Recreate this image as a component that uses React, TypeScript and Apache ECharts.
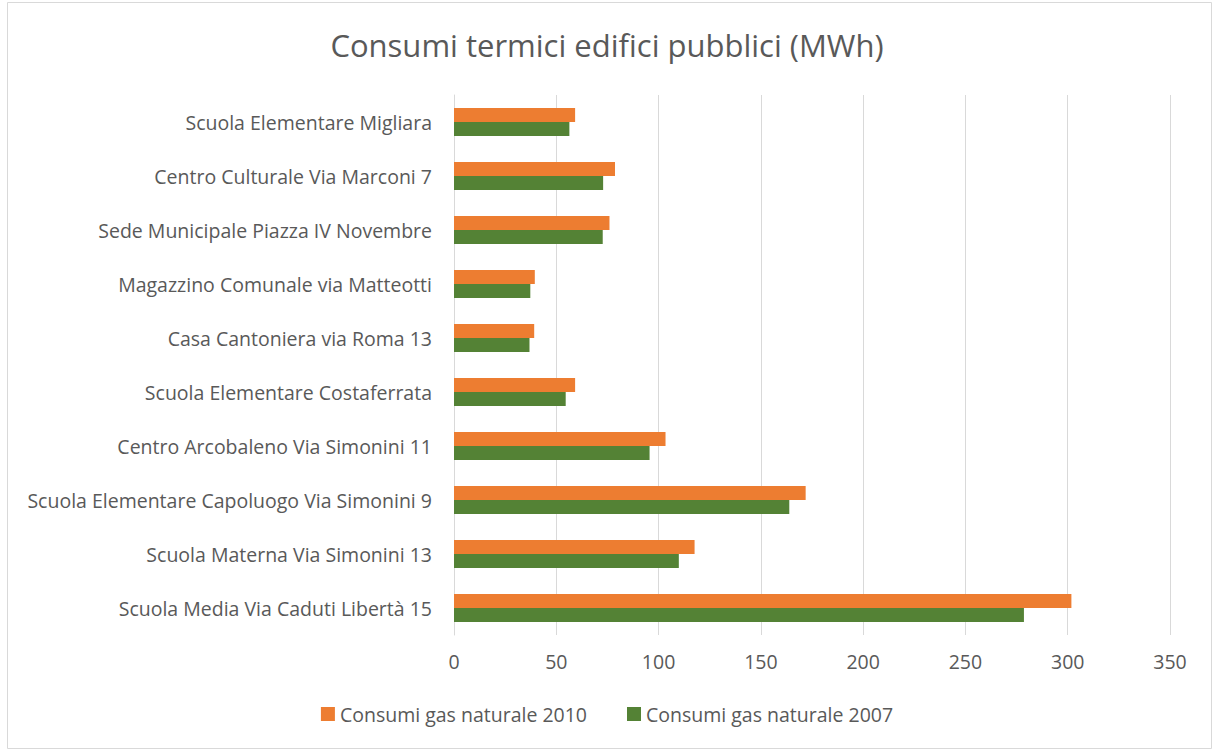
import React, { useEffect, useRef } from "react";
import * as echarts from "echarts";

const categories = [
  "Scuola Media Via Caduti Libertà 15",
  "Scuola Materna Via Simonini 13",
  "Scuola Elementare Capoluogo Via Simonini 9",
  "Centro Arcobaleno Via Simonini 11",
  "Scuola Elementare Costaferrata",
  "Casa Cantoniera via Roma 13",
  "Magazzino Comunale via Matteotti",
  "Sede Municipale Piazza IV Novembre",
  "Centro Culturale Via Marconi 7",
  "Scuola Elementare Migliara",
];
const gas2010 = [301.8, 117.6, 171.9, 103.4, 59.2, 39.2, 39.5, 76.0, 78.7, 59.2];
const gas2007 = [278.6, 109.9, 163.9, 95.6, 54.6, 36.9, 37.3, 72.7, 72.9, 56.4];
const seriesNames = ["Consumi gas naturale 2010", "Consumi gas naturale 2007"];
const title = "Consumi termici edifici pubblici (MWh)";

const FONT = "'Open Sans', sans-serif";
const TXT = "#595959";
const FS = 19.5;

export default function App() {
  const ref = useRef<HTMLDivElement>(null);
  useEffect(() => {
    if (!ref.current) return;
    const chart = echarts.init(ref.current, undefined, { renderer: "svg" });
    chart.setOption({
      animation: false,
      backgroundColor: "#fff",
      textStyle: { fontFamily: FONT },
      title: {
        text: title,
        left: "center",
        top: 24,
        textStyle: { fontFamily: FONT, fontSize: 31, fontWeight: "normal", color: TXT },
      },
      graphic: [
        {
          type: "rect",
          shape: { x: 7.5, y: 2.5, width: 1204, height: 746 },
          style: { fill: "none", stroke: "#d9d9d9", lineWidth: 1 },
          silent: true,
        },
      ],
      legend: {
        data: seriesNames,
        bottom: 24,
        left: "center",
        itemWidth: 14,
        itemHeight: 14,
        itemGap: 40,
        icon: "rect",
        textStyle: { fontFamily: FONT, fontSize: FS, color: TXT },
      },
      grid: { left: 454, right: 44, top: 95, bottom: 118, containLabel: false },
      xAxis: {
        type: "value",
        min: 0,
        max: 350,
        interval: 50,
        axisLine: { show: false },
        axisTick: { show: false },
        splitLine: { lineStyle: { color: "#d9d9d9", width: 1 } },
        axisLabel: { fontFamily: FONT, fontSize: FS, color: TXT, margin: 16 },
      },
      yAxis: {
        type: "category",
        data: categories,
        axisLine: { show: true, lineStyle: { color: "#d9d9d9" } },
        axisTick: { show: false },
        axisLabel: { fontFamily: FONT, fontSize: FS, color: TXT, margin: 22 },
      },
      series: [
        {
          name: seriesNames[0],
          type: "bar",
          data: gas2010,
          barWidth: 14,
          barGap: "0%",
          itemStyle: { color: "#ED7D31" },
        },
        {
          name: seriesNames[1],
          type: "bar",
          data: gas2007,
          barWidth: 14,
          barGap: "0%",
          itemStyle: { color: "#548235" },
        },
      ],
    });
    return () => chart.dispose();
  }, []);
  return (
    <div
      ref={ref}
      style={{ position: "fixed", left: 0, top: 0, width: 1214, height: 753 }}
    />
  );
}
